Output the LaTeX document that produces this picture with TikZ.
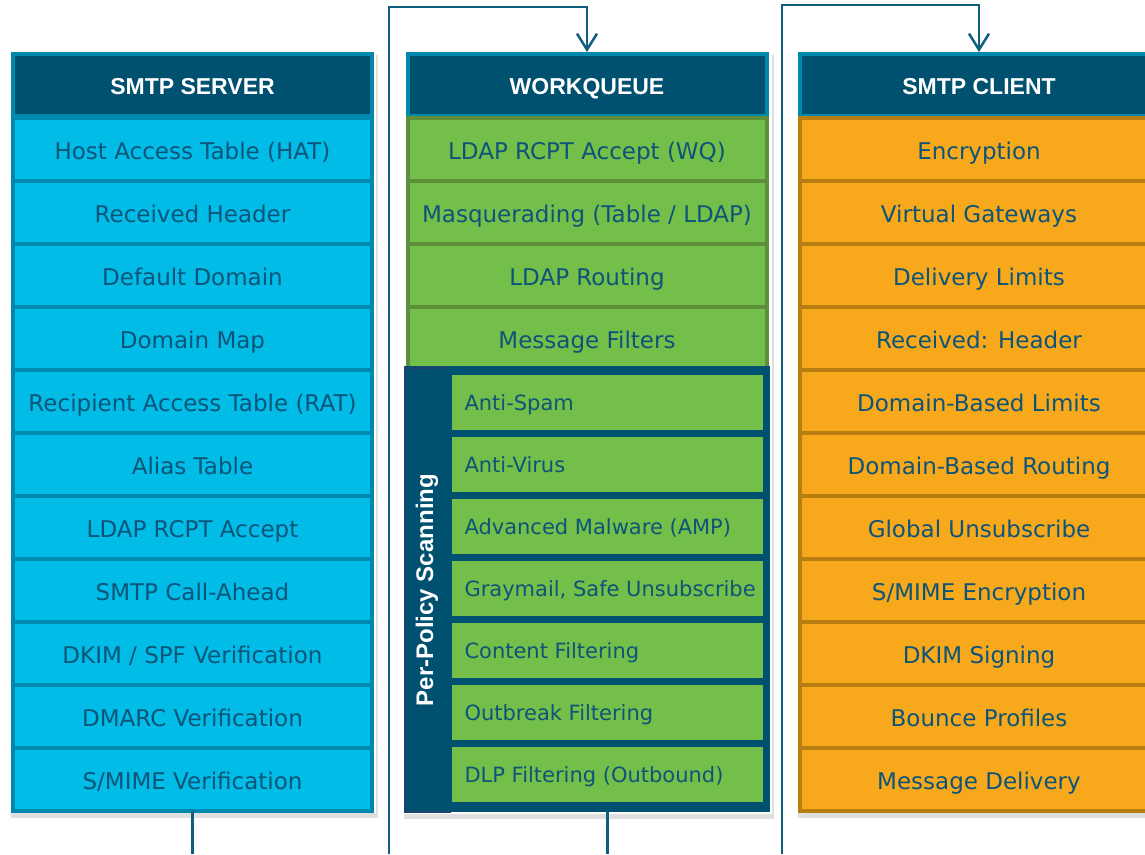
\documentclass[tikz,border=0pt]{standalone}
\usepackage{fontspec}
\setmainfont{DejaVu Sans}
\newfontfamily\headfont{Liberation Sans}
\usetikzlibrary{positioning,arrows.meta,shadows,fit,backgrounds}

\definecolor{headfill}{HTML}{00506F}
\definecolor{headedge}{HTML}{0088AD}
\definecolor{srvfill}{HTML}{00BCE7}
\definecolor{srvedge}{HTML}{0089AE}
\definecolor{wqfill}{HTML}{74BE4A}
\definecolor{wqedge}{HTML}{5E8E3A}
\definecolor{clifill}{HTML}{F8A81B}
\definecolor{cliedge}{HTML}{B97E12}
\definecolor{stripedge}{HTML}{1E416F}
\definecolor{rowtext}{HTML}{0D5479}
\definecolor{flowline}{HTML}{0F5F7C}

\newcommand{\scanlabel}[1]{\makebox[286pt][l]{#1}}

\tikzset{
  head/.style={fill=headfill, draw=headedge, line width=4pt, minimum width=359pt,
    minimum height=62pt, inner sep=0pt, text=white,
    font=\headfont\bfseries\fontsize{23}{23}\selectfont, text height=18.5pt, text depth=0pt},
  row/.style={line width=4pt, minimum width=359pt, minimum height=63pt,
    inner sep=0pt, outer sep=0pt, text=rowtext, font=\fontsize{23}{23}\selectfont,
    text height=19.8pt, text depth=0pt},
  srvrow/.style={row, fill=srvfill, draw=srvedge},
  wqrow/.style={row, fill=wqfill, draw=wqedge},
  clirow/.style={row, fill=clifill, draw=cliedge},
  scanrow/.style={row, fill=wqfill, draw=headfill, line width=7pt,
    minimum width=318pt, minimum height=62pt, font=\fontsize{21}{21}\selectfont,
    text height=17.3pt},
  colback/.style={fill=white, inner sep=2pt,
    drop shadow={shadow xshift=2pt, shadow yshift=-5pt, opacity=.25}},
  flow/.style={draw=flowline, line width=2.5pt},
  >={Straight Barb[length=16pt, width=20pt]}
}

\begin{document}
\begin{tikzpicture}[x=1pt, y=-1pt]
\useasboundingbox (0,0) rectangle (1145,854);

\node[head] (srv0) at (192.5,85) {SMTP SERVER};
\foreach \txt [count=\i, remember=\i as \j (initially 0)] in {Host Access Table (HAT),
    Received Header, Default Domain, Domain Map, Recipient Access Table (RAT),
    Alias Table, LDAP RCPT Accept, SMTP Call-Ahead, DKIM / SPF Verification,
    DMARC Verification, S/MIME Verification}
  \node[srvrow, below=0pt of srv\j] (srv\i) {\txt};

\node[head] (wq0) at (587,85) {WORKQUEUE};
\foreach \txt [count=\i, remember=\i as \j (initially 0)] in {LDAP RCPT Accept (WQ),
    Masquerading (Table / LDAP), LDAP Routing, Message Filters}
  \node[wqrow, below=0pt of wq\j] (wq\i) {\txt};

\node[fill=headfill, minimum width=366pt, minimum height=446pt, inner sep=0pt,
  outer sep=0pt] (ppframe) at (587,589) {};
\node[fill=headfill, draw=stripedge, line width=2pt, rotate=90, minimum width=444pt,
  minimum height=45pt, inner sep=0pt, text=white,
  font=\headfont\bfseries\fontsize{24}{24}\selectfont] (ppstrip) at (427,590) {Per-Policy Scanning};
\node[scanrow] (scan1) at (607.5,402) {\scanlabel{Anti-Spam}};
\foreach \txt [count=\i from 2, remember=\i as \j (initially 1)] in {Anti-Virus,
    Advanced Malware (AMP), {Graymail, Safe Unsubscribe}, Content Filtering,
    Outbreak Filtering, DLP Filtering (Outbound)}
  \node[scanrow, below=0pt of scan\j] (scan\i) {\scanlabel{\txt}};

\node[head] (cli0) at (979,85) {SMTP CLIENT};
\foreach \txt [count=\i, remember=\i as \j (initially 0)] in {Encryption,
    Virtual Gateways, Delivery Limits, Received: Header, Domain-Based Limits,
    Domain-Based Routing, Global Unsubscribe, S/MIME Encryption, DKIM Signing,
    Bounce Profiles, Message Delivery}
  \node[clirow, below=0pt of cli\j] (cli\i) {\txt};

\begin{scope}[on background layer]
  \node[colback, fit=(srv0)(srv11)] {};
  \node[colback, fit=(wq0)(ppframe)] {};
  \node[colback, fit=(cli0)(cli11)] {};
\end{scope}

\coordinate (srvout) at (192.5,854);
\coordinate (wqfeed) at (389,854);
\coordinate (wqbend) at (389,7);
\coordinate (wqout) at (607.5,854);
\coordinate (clifeed) at (782,854);
\coordinate (clibend) at (782,5);

\draw[flow] (srv11.south) -- (srvout);
\draw[flow, ->] (wqfeed) -- (wqbend) -| (wq0.north);
\draw[flow] (ppframe.south -| scan7.south) -- (wqout);
\draw[flow, ->] (clifeed) -- (clibend) -| (cli0.north);
\end{tikzpicture}
\end{document}
